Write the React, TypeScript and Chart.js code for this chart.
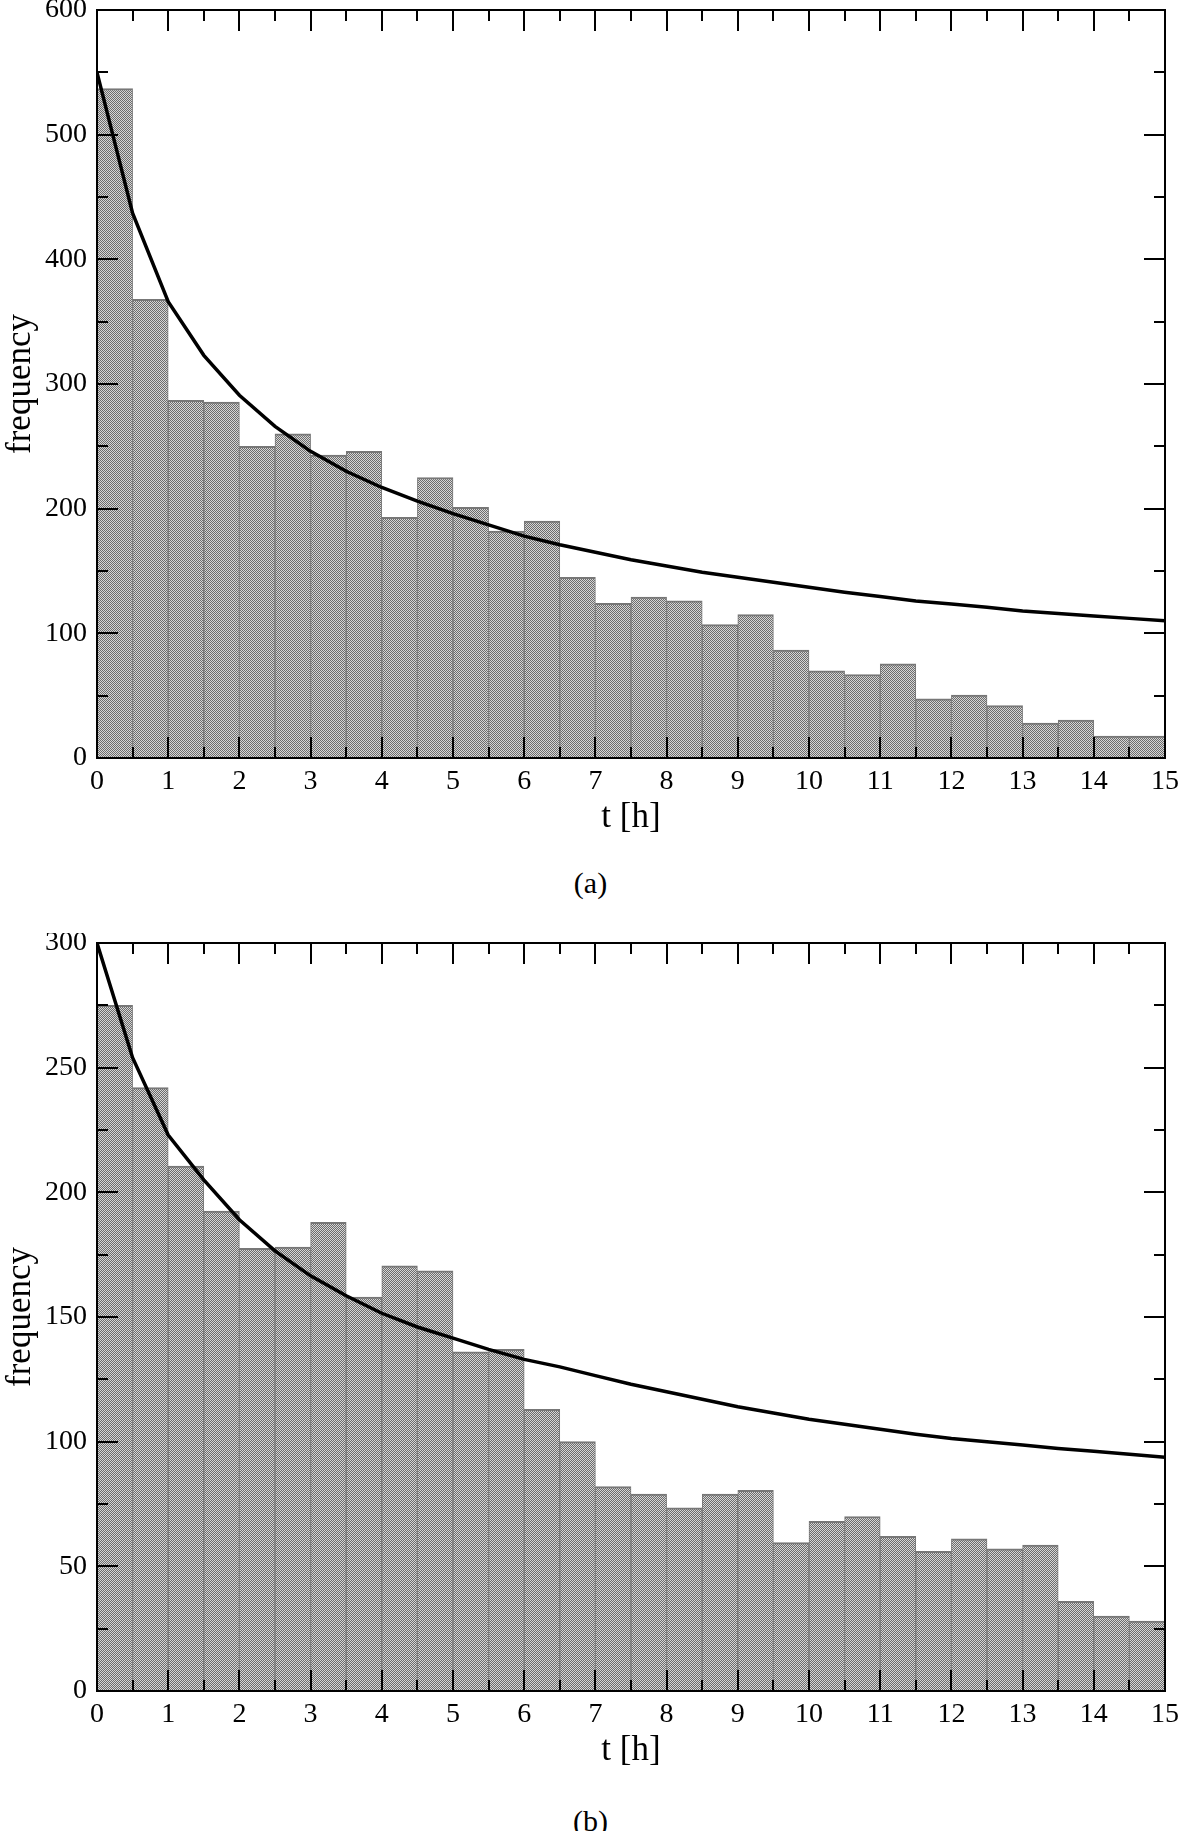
import React, { useEffect, useRef } from 'react';
import { Chart, registerables } from 'chart.js';

Chart.register(...registerables);

// ---- data ----
const binCenters = [
  0.25, 0.75, 1.25, 1.75, 2.25, 2.75, 3.25, 3.75, 4.25, 4.75,
  5.25, 5.75, 6.25, 6.75, 7.25, 7.75, 8.25, 8.75, 9.25, 9.75,
  10.25, 10.75, 11.25, 11.75, 12.25, 12.75, 13.25, 13.75, 14.25, 14.75,
];
const freqA = [
  537, 368, 287, 285.5, 250, 260, 243, 246, 193, 225,
  201, 182, 190, 145, 124, 129, 126, 107, 115, 86.5,
  70, 67, 75.5, 47.5, 50.5, 42, 28, 30.5, 17.5, 17.5,
];
const freqB = [
  275, 242, 210.5, 192.5, 177.5, 178, 188, 158, 170.5, 168.5,
  136, 137, 113, 100, 82, 79, 73.5, 79, 80.5, 59.5,
  68, 70, 62, 56, 61, 57, 58.5, 36, 30, 28,
];
const curveT = [
  0, 0.5, 1, 1.5, 2, 2.5, 3, 3.5, 4, 4.5, 5, 5.5, 6, 6.5, 7, 7.5,
  8, 8.5, 9, 9.5, 10, 10.5, 11, 11.5, 12, 12.5, 13, 13.5, 14, 14.5, 15,
];
const curveA = [
  550, 437, 366, 323, 291, 266, 246, 230, 217, 206, 196, 187, 178, 171, 165, 159,
  154, 149, 145, 141, 137, 133, 129.5, 126, 123.5, 121, 118, 116, 114, 112, 110,
];
const curveB = [
  300, 254, 223, 205, 189, 176.5, 166.5, 158.5, 151.5, 146, 141.5, 137, 133, 130, 126.5, 123,
  120, 117, 114, 111.5, 109, 107, 105, 103, 101.3, 100, 98.7, 97.3, 96.2, 95, 93.7,
];
const xMin = 0;
const xMax = 15;
const xStep = 1;
const yMaxA = 600;
const yStepA = 100;
const yMaxB = 300;
const yStepB = 50;
const xTitle = 't [h]';
const yTitle = 'frequency';
const panelLabels = ['(a)', '(b)'];

const FONT = "'Liberation Serif', 'Times New Roman', serif";
const W = 1181;
const H = 860;

function makePattern(ctx: CanvasRenderingContext2D) {
  const c = document.createElement('canvas');
  c.width = 2;
  c.height = 2;
  const g = c.getContext('2d')!;
  g.fillStyle = '#d6d6d6';
  g.fillRect(0, 0, 2, 2);
  g.fillStyle = '#6c6c6c';
  g.fillRect(0, 0, 1, 1);
  g.fillRect(1, 1, 1, 1);
  return ctx.createPattern(c, 'repeat');
}

const frameTicks = {
  id: 'frameTicks',
  afterDatasetsDraw(chart: any) {
    const { ctx, chartArea: a } = chart;
    const xs = chart.scales.x;
    const ys = chart.scales.y;
    const seg = (x1: number, y1: number, x2: number, y2: number) => {
      ctx.beginPath();
      ctx.moveTo(x1, y1);
      ctx.lineTo(x2, y2);
      ctx.stroke();
    };
    const withMinor = (vals: number[]) => {
      const out: { v: number; major: boolean }[] = [];
      vals.forEach((v, i) => {
        out.push({ v, major: true });
        if (i < vals.length - 1) out.push({ v: (v + vals[i + 1]) / 2, major: false });
      });
      return out;
    };
    ctx.save();
    ctx.strokeStyle = '#000';
    ctx.lineWidth = 2;
    for (const { v, major } of withMinor(xs.ticks.map((t: any) => t.value))) {
      const px = Math.round(xs.getPixelForValue(v));
      const L = major ? 21 : 11;
      seg(px, a.bottom, px, a.bottom - L);
      seg(px, a.top, px, a.top + L);
    }
    for (const { v, major } of withMinor(ys.ticks.map((t: any) => t.value))) {
      const py = Math.round(ys.getPixelForValue(v));
      const L = major ? 21 : 11;
      seg(a.left, py, a.left + L, py);
      seg(a.right, py, a.right - L, py);
    }
    ctx.strokeRect(a.left, a.top, a.right - a.left, a.bottom - a.top);
    ctx.restore();
  },
};

function buildConfig(ctx: CanvasRenderingContext2D, freq: number[], curve: number[], yMax: number, yStep: number): any {
  return {
    type: 'bar',
    data: {
      datasets: [
        {
          type: 'line',
          data: curveT.map((t, i) => ({ x: t, y: curve[i] })),
          borderColor: '#000',
          borderWidth: 3.5,
          pointRadius: 0,
          tension: 0,
          fill: false,
          order: 0,
        },
        {
          type: 'bar',
          data: binCenters.map((t, i) => ({ x: t, y: freq[i] })),
          backgroundColor: makePattern(ctx),
          borderColor: '#777777',
          borderWidth: { top: 2, left: 1, right: 1, bottom: 0 },
          barPercentage: 1,
          categoryPercentage: 1,
          order: 1,
        },
      ],
    },
    options: {
      animation: false,
      responsive: false,
      maintainAspectRatio: false,
      events: [],
      layout: { padding: { left: 0, top: 10, right: 16, bottom: 0 }, autoPadding: false },
      plugins: { legend: { display: false }, tooltip: { enabled: false } },
      scales: {
        x: {
          type: 'linear',
          min: xMin,
          max: xMax,
          offset: false,
          grid: { display: false, drawTicks: false, offset: false, tickLength: 0 },
          border: { display: false },
          ticks: {
            stepSize: xStep,
            autoSkip: false,
            maxRotation: 0,
            padding: 7,
            color: '#000',
            font: { family: FONT, size: 28 },
          },
          title: {
            display: true,
            text: xTitle,
            color: '#000',
            font: { family: FONT, size: 35 },
            padding: { top: 0, bottom: 21 },
          },
          afterFit(s: any) {
            s.height = 102;
            s.paddingLeft = 0;
            s.paddingRight = 0;
          },
        },
        y: {
          type: 'linear',
          min: 0,
          max: yMax,
          grid: { display: false, drawTicks: false, tickLength: 0 },
          border: { display: false },
          ticks: {
            stepSize: yStep,
            padding: 10,
            color: '#000',
            font: { family: FONT, size: 28 },
          },
          title: {
            display: true,
            text: yTitle,
            color: '#000',
            font: { family: FONT, size: 35 },
            padding: { top: 0, bottom: 0 },
          },
          afterFit(s: any) {
            s.width = 97;
            s.paddingTop = 0;
            s.paddingBottom = 0;
          },
        },
      },
    },
    plugins: [frameTicks],
  };
}

function HistChart(props: { freq: number[]; curve: number[]; yMax: number; yStep: number; top: number }) {
  const ref = useRef<HTMLCanvasElement | null>(null);
  useEffect(() => {
    const canvas = ref.current!;
    const ctx = canvas.getContext('2d')!;
    const chart = new Chart(ctx, buildConfig(ctx, props.freq, props.curve, props.yMax, props.yStep));
    return () => chart.destroy();
  }, []);
  return (
    <canvas
      ref={ref}
      width={W}
      height={H}
      style={{ position: 'absolute', left: 0, top: props.top, width: W, height: H }}
    />
  );
}

const labelStyle = (centerY: number): React.CSSProperties => ({
  position: 'absolute',
  left: 0,
  top: centerY - 17,
  width: W,
  textAlign: 'center',
  fontFamily: FONT,
  fontSize: 30,
  lineHeight: '34px',
  color: '#000',
});

export default function App() {
  return (
    <div style={{ position: 'absolute', left: 0, top: 0, width: W, height: 1831, background: '#fff', overflow: 'hidden' }}>
      <HistChart freq={freqA} curve={curveA} yMax={yMaxA} yStep={yStepA} top={0} />
      <div style={labelStyle(883)}>{panelLabels[0]}</div>
      <HistChart freq={freqB} curve={curveB} yMax={yMaxB} yStep={yStepB} top={933} />
      <div style={labelStyle(1821)}>{panelLabels[1]}</div>
    </div>
  );
}
